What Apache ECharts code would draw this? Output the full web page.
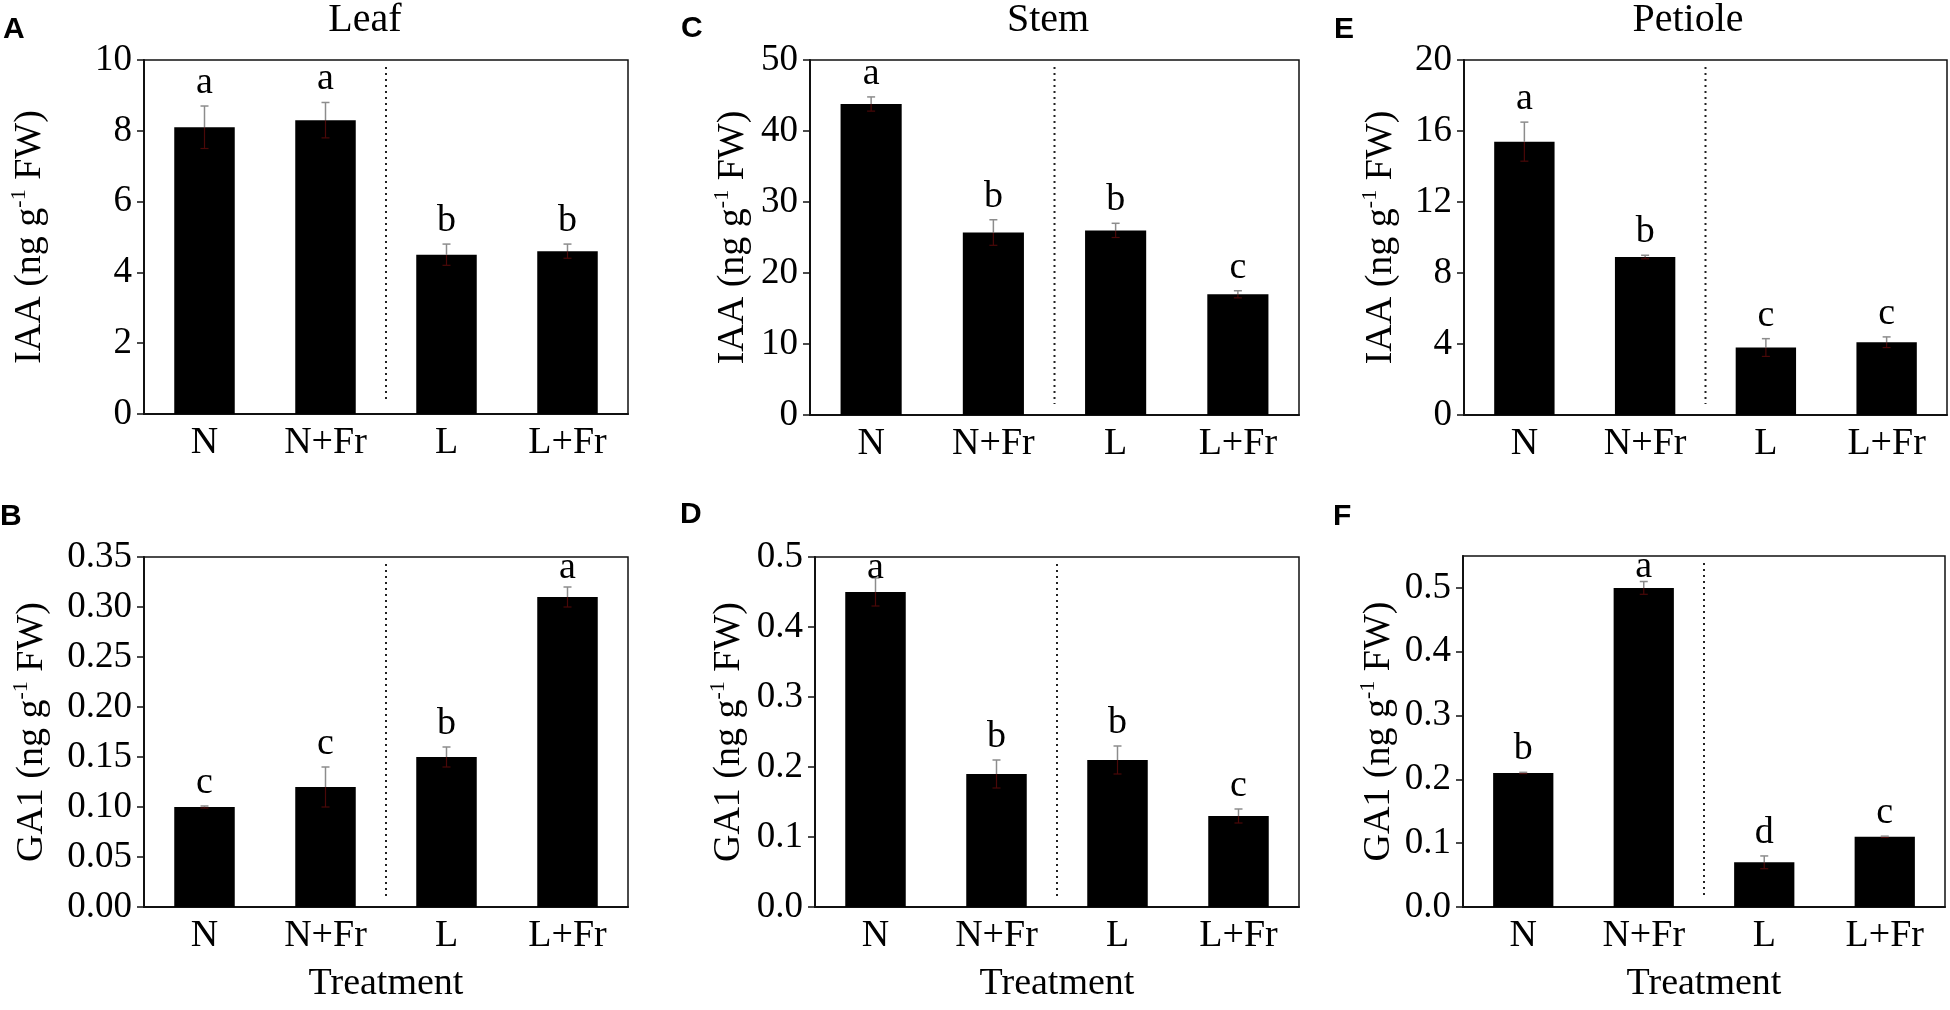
<!DOCTYPE html>
<html style="height: 100%">
<head>
<meta charset="utf-8">
<script src="https://cdn.jsdelivr.net/npm/echarts@6/dist/echarts.min.js"></script>
</head>
<body style="height: 100%; margin: 0; background: #fff">
<div id="container" style="width: 1950px; height: 1010px"></div>
<script type="text/javascript">
// treatments on the x axis
const categories = ['N', 'N+Fr', 'L', 'L+Fr'];

// Leaf
const leafIAA = [8.1, 8.3, 4.5, 4.6];
const leafIAAErr = [0.6, 0.5, 0.3, 0.2];
const leafIAALetters = ['a', 'a', 'b', 'b'];
const leafGA1 = [0.10, 0.12, 0.15, 0.31];
const leafGA1Err = [0.001, 0.02, 0.01, 0.01];
const leafGA1Letters = ['c', 'c', 'b', 'a'];

// Stem
const stemIAA = [43.8, 25.7, 26.0, 17.0];
const stemIAAErr = [1.0, 1.8, 1.0, 0.5];
const stemIAALetters = ['a', 'b', 'b', 'c'];
const stemGA1 = [0.45, 0.19, 0.21, 0.13];
const stemGA1Err = [0.02, 0.02, 0.02, 0.01];
const stemGA1Letters = ['a', 'b', 'b', 'c'];

// Petiole
const petioleIAA = [15.4, 8.9, 3.8, 4.1];
const petioleIAAErr = [1.1, 0.1, 0.5, 0.3];
const petioleIAALetters = ['a', 'b', 'c', 'c'];
const petioleGA1 = [0.21, 0.50, 0.07, 0.11];
const petioleGA1Err = [0.001, 0.01, 0.01, 0.001];
const petioleGA1Letters = ['b', 'a', 'd', 'c'];

const serif = '"Liberation Serif", "Times New Roman", serif';

var dom = document.getElementById('container');
var myChart = echarts.init(dom, null, { renderer: 'canvas' });

// one entry per panel: grid box, y scale, data
var panels = [
  { grid: { left: 144, top: 60, width: 484, height: 354 }, max: 10, interval: 2, dec: 0, maxLabel: true,
    name: 'IAA (ng g{sup|-1} FW)', nameGap: 92, values: leafIAA, errs: leafIAAErr, letters: leafIAALetters, bottom: false },
  { grid: { left: 144, top: 557, width: 484, height: 350 }, max: 0.35, interval: 0.05, dec: 2, maxLabel: true,
    name: 'GA1 (ng g{sup|-1} FW)', nameGap: 90, values: leafGA1, errs: leafGA1Err, letters: leafGA1Letters, bottom: true },
  { grid: { left: 810, top: 60, width: 489, height: 355 }, max: 50, interval: 10, dec: 0, maxLabel: true,
    name: 'IAA (ng g{sup|-1} FW)', nameGap: 55, values: stemIAA, errs: stemIAAErr, letters: stemIAALetters, bottom: false },
  { grid: { left: 815, top: 557, width: 484, height: 350 }, max: 0.5, interval: 0.1, dec: 1, maxLabel: true,
    name: 'GA1 (ng g{sup|-1} FW)', nameGap: 64, values: stemGA1, errs: stemGA1Err, letters: stemGA1Letters, bottom: true },
  { grid: { left: 1464, top: 60, width: 483, height: 355 }, max: 20, interval: 4, dec: 0, maxLabel: true,
    name: 'IAA (ng g{sup|-1} FW)', nameGap: 61, values: petioleIAA, errs: petioleIAAErr, letters: petioleIAALetters, bottom: false },
  { grid: { left: 1463, top: 556, width: 482, height: 351 }, max: 0.55, interval: 0.1, dec: 1, maxLabel: false,
    name: 'GA1 (ng g{sup|-1} FW)', nameGap: 62, values: petioleGA1, errs: petioleGA1Err, letters: petioleGA1Letters, bottom: true }
];

function errorBarItem(letters) {
  return function (params, api) {
    var i = api.value(0), v = api.value(1), e = api.value(2);
    var top = api.coord([i, v + e]);
    var mid = api.coord([i, v]);
    var bot = api.coord([i, v - e]);
    var band = api.size([1, 0])[0];
    var cs = params.coordSys;
    // letter baseline above the error cap, kept inside the box
    var base = Math.max(top[1] - 12, cs.y + 22);
    var children = [
      { type: 'line', shape: { x1: mid[0], y1: mid[1], x2: bot[0], y2: bot[1] }, style: { stroke: '#4a0808', lineWidth: 1.2 } },
      { type: 'line', shape: { x1: bot[0] - 4, y1: bot[1], x2: bot[0] + 4, y2: bot[1] }, style: { stroke: '#4a0808', lineWidth: 1.2 } },
      { type: 'line', shape: { x1: top[0], y1: top[1], x2: mid[0], y2: mid[1] }, style: { stroke: '#8c8c8c', lineWidth: 1.5 } },
      { type: 'line', shape: { x1: top[0] - 4, y1: top[1], x2: top[0] + 4, y2: top[1] }, style: { stroke: '#8c8c8c', lineWidth: 1.5 } },
      { type: 'text', style: { text: letters[params.dataIndex], x: top[0], y: base + 8, textAlign: 'center', textVerticalAlign: 'bottom', font: '38px ' + serif, fill: '#000' } }
    ];
    if (params.dataIndex === 1) {
      // dotted separator between the N and L groups
      var xd = mid[0] + band / 2;
      children.push({ type: 'line', shape: { x1: xd, y1: cs.y + 7, x2: xd, y2: cs.y + cs.height - 11 },
        style: { stroke: '#222', lineWidth: 2, lineDash: [2, 4] } });
    }
    return { type: 'group', children: children };
  };
}

var option = {
  backgroundColor: '#fff',
  animation: false,
  grid: [], xAxis: [], yAxis: [], series: [],
  graphic: { elements: [] }
};

panels.forEach(function (p, k) {
  option.grid.push(Object.assign({ show: true, borderColor: '#111', borderWidth: 1.5, backgroundColor: 'transparent' }, p.grid));
  option.xAxis.push({
    type: 'category', gridIndex: k, data: categories,
    name: p.bottom ? 'Treatment' : '', nameLocation: 'middle', nameGap: 58,
    nameTextStyle: { fontFamily: serif, fontSize: 38, color: '#000' },
    axisLine: { lineStyle: { color: '#111', width: 2 } },
    axisTick: { alignWithLabel: true, length: 7, lineStyle: { color: '#111', width: 1.5 } },
    axisLabel: { fontFamily: serif, fontSize: 38, color: '#000', margin: 10 }
  });
  option.yAxis.push({
    type: 'value', gridIndex: k, min: 0, max: p.max, interval: p.interval,
    name: p.name, nameLocation: 'middle', nameGap: p.nameGap,
    nameTextStyle: { fontFamily: serif, fontSize: 38, color: '#000', lineHeight: 44,
      rich: { sup: { fontFamily: serif, fontSize: 22, color: '#000', lineHeight: 44, verticalAlign: 'top' } } },
    splitLine: { show: false },
    axisLine: { show: true, lineStyle: { color: '#111', width: 2 } },
    axisTick: { show: true, length: 7, lineStyle: { color: '#111', width: 1.5 } },
    axisLabel: { fontFamily: serif, fontSize: 37, color: '#000', margin: 12, showMaxLabel: p.maxLabel,
      formatter: (function (d) { return function (val) { return val.toFixed(d); }; })(p.dec) }
  });
  option.series.push({
    type: 'bar', xAxisIndex: k, yAxisIndex: k, data: p.values, barWidth: '50%',
    itemStyle: { color: '#000' }
  });
  option.series.push({
    type: 'custom', xAxisIndex: k, yAxisIndex: k,
    data: p.values.map(function (v, i) { return [i, v, p.errs[i]]; }),
    renderItem: errorBarItem(p.letters), z: 5
  });
});

// column titles and panel letters
[['Leaf', 365], ['Stem', 1048], ['Petiole', 1688]].forEach(function (t) {
  option.graphic.elements.push({ type: 'text', x: t[1], y: 0,
    style: { text: t[0], font: '40px ' + serif, fill: '#000', textAlign: 'center', textVerticalAlign: 'top' } });
});
[['A', 3, 15], ['B', 0, 502], ['C', 681, 14], ['D', 680, 500], ['E', 1334, 15], ['F', 1333, 502]].forEach(function (t) {
  option.graphic.elements.push({ type: 'text', x: t[1], y: t[2],
    style: { text: t[0], font: 'bold 30px "Liberation Sans", Arial, sans-serif', fill: '#000', textVerticalAlign: 'top' } });
});

myChart.setOption(option);
</script>
</body>
</html>
